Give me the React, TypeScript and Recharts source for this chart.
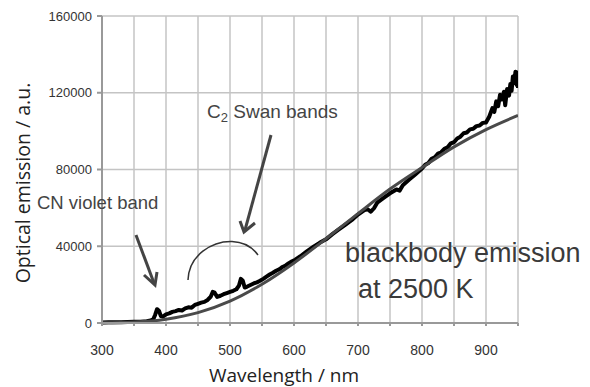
import { CartesianGrid, Line, LineChart, XAxis, YAxis } from 'recharts';

const wavelengthTicks = [300, 350, 400, 450, 500, 550, 600, 650, 700, 750, 800, 850, 900, 950];
const emissionTicks = [0, 40000, 80000, 120000, 160000];

// blackbody curve at 2500 K
const blackbodyNm = [300, 350, 400, 450, 500, 550, 600, 650, 700, 750, 800, 850, 900, 950];
const blackbodyEmission = [70, 500, 2000, 5400, 11400, 20200, 31300, 43900, 57000, 69800, 81000, 91800, 100800, 108200];

// measured spectrum
const measuredNm = [
  300, 310, 320, 330, 340, 350, 360, 370, 376, 380,
  383, 386, 389, 392, 395, 400, 405, 410, 415, 420,
  425, 430, 435, 440, 445, 450, 455, 460, 465, 470,
  473, 476, 480, 485, 490, 495, 500, 505, 510, 514,
  517, 520, 523, 527, 532, 537, 542, 547, 552, 557,
  562, 567, 572, 577, 582, 587, 592, 597, 602, 610,
  620, 630, 640, 650, 660, 670, 680, 690, 700, 710,
  715, 720, 725, 730, 740, 750, 760, 765, 770, 780,
  790, 800, 805, 810, 815, 820, 825, 830, 835, 840,
  845, 850, 855, 860, 865, 870, 875, 880, 885, 890,
  895, 900, 905, 910, 913, 916, 919, 922, 925, 928,
  930, 933, 936, 938, 940, 942, 944, 946, 948, 949,
  950,
];
const measuredEmission = [
  300, 350, 400, 450, 500, 600, 700, 900, 1300, 1900,
  4200, 7200, 6400, 3600, 3300, 4500, 5000, 5800, 6200, 6800,
  6500, 7600, 8200, 8000, 9400, 10000, 10600, 11000, 12000, 13800,
  16200, 15800, 13600, 14200, 15000, 15600, 16200, 16800, 17600, 19500,
  23000, 22000, 18500, 19000, 19800, 20600, 21200, 22000, 23000, 24200,
  25300, 26200, 27200, 28000, 29200, 30000, 31200, 32200, 33000, 34800,
  37300, 39600, 41800, 43600, 46300, 48800, 51200, 53600, 56500, 58800,
  59300, 58000, 59800, 62700, 65200, 67600, 69600, 69000, 71800, 74800,
  77600, 80500, 82500, 83400, 85600, 86400, 88300, 89000, 90800, 91600,
  93600, 94200, 96200, 97100, 98900, 99300, 100900, 101200, 102600, 102900,
  104300, 104500, 107500, 112000, 110000, 115500, 113000, 119000, 116500, 120500,
  113500, 122000, 118500, 124500, 121000, 128500, 125000, 131000, 124000, 130500,
  122500,
];

const blackbody = blackbodyNm.map((nm, i) => ({ nm, emission: blackbodyEmission[i] }));
const measured = measuredNm.map((nm, i) => ({ nm, emission: measuredEmission[i] }));

const tickFont = { fontFamily: 'Liberation Sans, Arial, sans-serif', fontSize: 13, fill: '#333' };
const xTickFont = { ...tickFont, fontSize: 14 };
const noteFont = 'Liberation Sans, Arial, sans-serif';
const titleFont = 'Open Sans, sans-serif';

function Annotations() {
  return (
    <svg
      width={590}
      height={387}
      style={{ position: 'absolute', left: 0, top: 0, pointerEvents: 'none' }}
    >
      <text
        transform="translate(30,183) rotate(-90)"
        textAnchor="middle"
        fontFamily={titleFont}
        fontSize={19.5}
        fill="#222"
      >
        Optical emission / a.u.
      </text>
      <text x={284} y={382} textAnchor="middle" fontFamily={titleFont} fontSize={19} fill="#222">
        Wavelength / nm
      </text>

      <text x={37} y={209} fontFamily={noteFont} fontSize={18.5} fill="#444">
        CN violet band
      </text>
      <line x1={136} y1={235} x2={154} y2={283} stroke="#444" strokeWidth={3} />
      <polyline points="144,275 155,285 157,272" fill="none" stroke="#444" strokeWidth={3} />

      <text x={207} y={118} fontFamily={noteFont} fontSize={19} fill="#444">
        C<tspan fontSize={13} dy={4}>2</tspan>
        <tspan dy={-4}> Swan bands</tspan>
      </text>
      <line x1={271} y1={135} x2={245} y2={230} stroke="#444" strokeWidth={3} />
      <polyline points="240,221 244,232 255,223" fill="none" stroke="#444" strokeWidth={3} />
      <path
        d="M188,280 C189,255 212,241 232,241.5 C245,242 253,248 258,255"
        fill="none"
        stroke="#333"
        strokeWidth={1.5}
      />

      <text x={345} y={262} fontFamily={noteFont} fontSize={27} fill="#3a3a3a">
        blackbody emission
      </text>
      <text x={358} y={298} fontFamily={noteFont} fontSize={27} fill="#3a3a3a">
        at 2500 K
      </text>
    </svg>
  );
}

export default function App() {
  return (
    <div style={{ position: 'absolute', left: 0, top: 0, width: 590, height: 387, background: '#fff' }}>
      <LineChart width={590} height={387} margin={{ top: 16, right: 72, left: 42, bottom: 24 }}>
        <CartesianGrid stroke="#c4c4c4" strokeWidth={1.5} />
        <XAxis
          type="number"
          dataKey="nm"
          domain={[300, 950]}
          ticks={wavelengthTicks}
          tickFormatter={(v: number) => (v % 100 === 0 ? String(v) : '')}
          interval={0}
          height={40}
          stroke="#999"
          strokeWidth={2}
          tickSize={3}
          tickMargin={19}
          tick={xTickFont}
          allowDataOverflow
        />
        <YAxis
          type="number"
          domain={[0, 160000]}
          ticks={emissionTicks}
          interval={0}
          width={60}
          stroke="#999"
          strokeWidth={2}
          tickSize={5}
          tickMargin={5}
          tick={tickFont}
        />
        <Line
          data={measured}
          dataKey="emission"
          type="linear"
          stroke="#000"
          strokeWidth={4}
          strokeLinejoin="round"
          dot={false}
          isAnimationActive={false}
        />
        <Line
          data={blackbody}
          dataKey="emission"
          type="monotone"
          stroke="#4a4a4a"
          strokeWidth={3}
          dot={false}
          isAnimationActive={false}
        />
      </LineChart>
      <Annotations />
    </div>
  );
}
